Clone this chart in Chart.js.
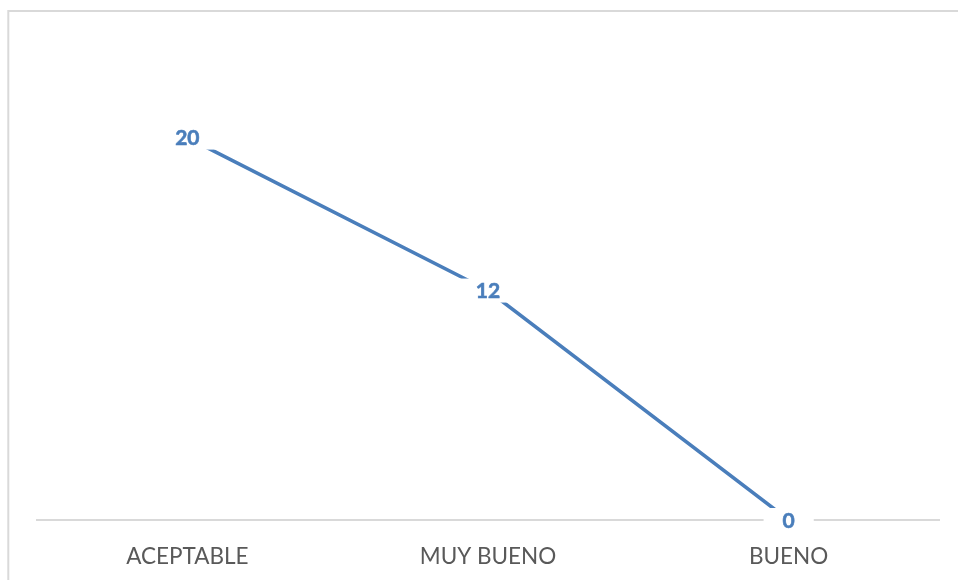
<!DOCTYPE html>
<html>
<head>
<meta charset="utf-8">
<script src="https://cdn.jsdelivr.net/npm/chart.js@4.4.1/dist/chart.umd.min.js"></script>
<style>
html,body{margin:0;padding:0;background:#fff;}
#wrap{position:relative;width:958px;height:580px;}
</style>
</head>
<body>
<div id="wrap"><canvas id="c" width="958" height="580"></canvas></div>
<script>
const categories = ["ACEPTABLE", "MUY BUENO", "BUENO"];
const values = [20, 12, 0];

const frame = {
  id: 'frame',
  beforeDraw(chart) {
    const ctx = chart.ctx;
    ctx.save();
    ctx.fillStyle = '#ffffff';
    ctx.fillRect(0, 0, chart.width, chart.height);
    ctx.strokeStyle = '#d9d9d9';
    ctx.lineWidth = 2;
    ctx.beginPath();
    ctx.moveTo(8.3, chart.height);
    ctx.lineTo(8.3, 11);
    ctx.lineTo(chart.width, 11);
    ctx.stroke();
    ctx.restore();
  }
};

const labelsPlugin = {
  id: 'valueLabels',
  afterDatasetsDraw(chart) {
    const ctx = chart.ctx;
    const meta = chart.getDatasetMeta(0);
    ctx.save();
    ctx.font = 'bold 21px Lato';
    ctx.textAlign = 'center';
    ctx.textBaseline = 'middle';
    meta.data.forEach((pt, i) => {
      const txt = String(chart.data.datasets[0].data[i]);
      const w = ctx.measureText(txt).width;
      const bw = w + 38, bh = 24;
      ctx.fillStyle = '#ffffff';
      ctx.fillRect(pt.x - bw / 2, pt.y - bh / 2, bw, bh);
      ctx.fillStyle = '#4a7ebb';
      ctx.lineWidth = 0.6;
      ctx.strokeStyle = '#4a7ebb';
      ctx.fillText(txt, pt.x, pt.y + 1);
      ctx.strokeText(txt, pt.x, pt.y + 1);
    });
    ctx.restore();
  }
};

new Chart(document.getElementById('c'), {
  type: 'line',
  data: {
    labels: categories,
    datasets: [{
      data: values,
      borderColor: '#4a7ebb',
      borderWidth: 3.5,
      pointRadius: 0,
      tension: 0,
      fill: false
    }]
  },
  options: {
    responsive: false,
    animation: false,
    layout: { padding: { left: 37, right: 19, top: 42, bottom: 0 } },
    plugins: { legend: { display: false }, tooltip: { enabled: false } },
    scales: {
      x: {
        offset: true,
        grid: { display: false, drawTicks: false },
        border: { display: true, color: '#d9d9d9', width: 2 },
        ticks: { color: '#595959', font: { family: 'Lato', size: 22.5 }, padding: 23, maxRotation: 0 },
        afterFit(scale) { scale.height = 60; }
      },
      y: { display: false, min: 0, max: 25 }
    }
  },
  plugins: [frame, labelsPlugin]
});
</script>
</body>
</html>
